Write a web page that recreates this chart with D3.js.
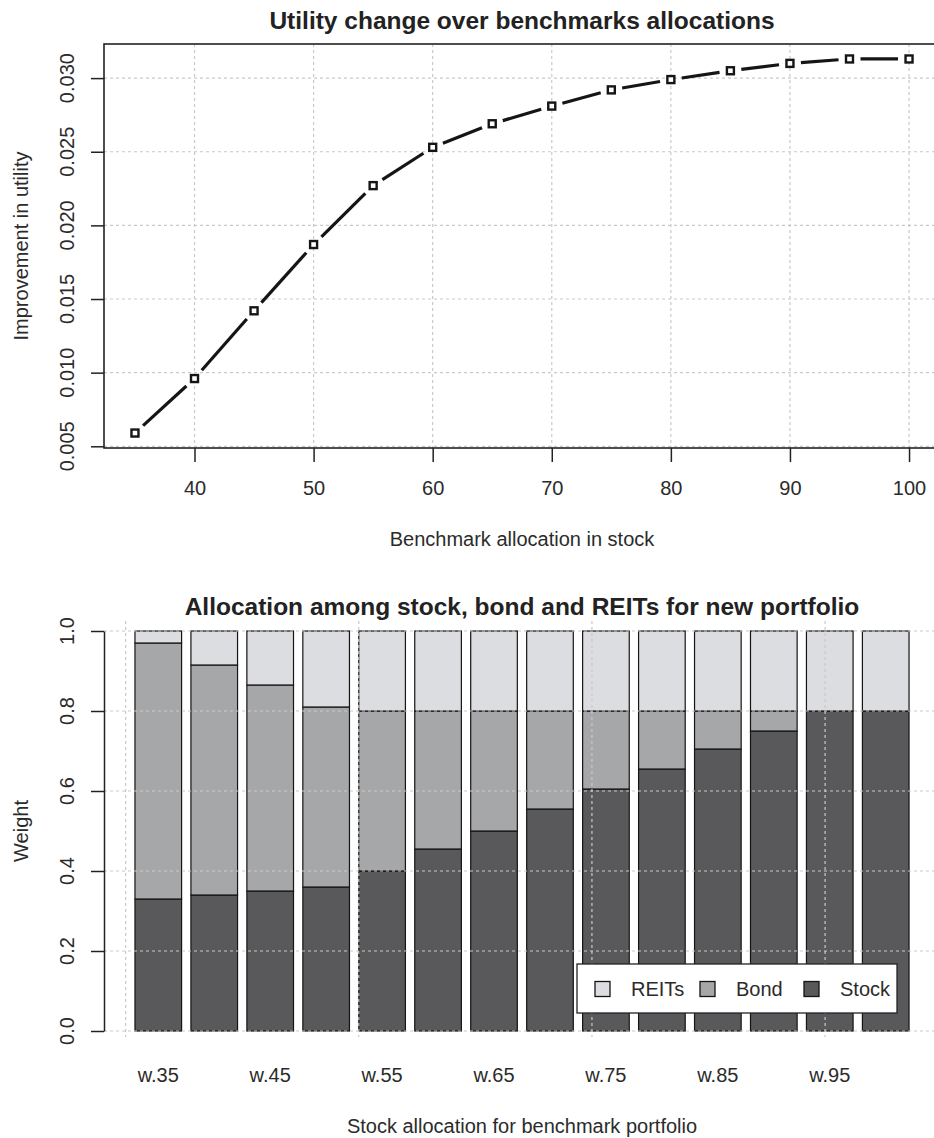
<!DOCTYPE html>
<html>
<head>
<meta charset="utf-8">
<script src="https://cdn.jsdelivr.net/npm/d3@7"></script>
<style>
  html, body { margin: 0; padding: 0; background: #ffffff; }
  svg { display: block; font-family: "Liberation Sans", Arial, sans-serif; }
</style>
</head>
<body>
<script>
// ---------------- DATA ----------------
// Top chart: utility improvement vs benchmark stock allocation
const benchmarkAlloc = [35, 40, 45, 50, 55, 60, 65, 70, 75, 80, 85, 90, 95, 100];
const utilityGain = [0.0059, 0.0096, 0.0142, 0.0187, 0.0227, 0.0253, 0.0269, 0.0281, 0.0292, 0.0299, 0.0305, 0.0310, 0.0313, 0.0313];
const topXTicks = [40, 50, 60, 70, 80, 90, 100];
const topYTicks = [0.005, 0.010, 0.015, 0.020, 0.025, 0.030];
const topYTickLabels = ["0.005", "0.010", "0.015", "0.020", "0.025", "0.030"];

// Bottom chart: allocation among stock, bond and REITs
const categories = ["w.35", "w.40", "w.45", "w.50", "w.55", "w.60", "w.65", "w.70", "w.75", "w.80", "w.85", "w.90", "w.95", "w.100"];
const stockW = [0.33, 0.34, 0.35, 0.36, 0.40, 0.455, 0.50, 0.555, 0.605, 0.655, 0.705, 0.75, 0.80, 0.80];
const bondW  = [0.64, 0.575, 0.515, 0.45, 0.40, 0.345, 0.30, 0.245, 0.195, 0.145, 0.095, 0.05, 0.00, 0.00];
const reitsW = [0.03, 0.085, 0.135, 0.19, 0.20, 0.20, 0.20, 0.20, 0.20, 0.20, 0.20, 0.20, 0.20, 0.20];
const weightTicks = [0, 0.2, 0.4, 0.6, 0.8, 1.0];
const weightTickLabels = ["0.0", "0.2", "0.4", "0.6", "0.8", "1.0"];
const seriesNames = ["Stock", "Bond", "REITs"];
const legendOrder = ["REITs", "Bond", "Stock"];

// ---------------- LAYOUT ----------------
const W = 934, H = 1138;
const FONT = 20, TITLE_FONT = 25;
const textCol = "#2b2b2b";
const gridCol = "#c9c9c9";
const colors = { Stock: "#59595b", Bond: "#a6a7a9", REITs: "#dcdde0" };

const svg = d3.select("body").append("svg").attr("width", W).attr("height", H);

const pad4 = ([a, b]) => [a - 0.04 * (b - a), b + 0.04 * (b - a)];

// ================= TOP CHART =================
const tp = { left: 104, right: 940, top: 44, bottom: 448 };
const x1 = d3.scaleLinear().domain(pad4(d3.extent(benchmarkAlloc))).range([tp.left, tp.right]);
const y1 = d3.scaleLinear().domain(pad4(d3.extent(utilityGain))).range([tp.bottom, tp.top]);

const gTop = svg.append("g");

// grid
gTop.append("g").selectAll("line").data(topXTicks).join("line")
  .attr("x1", d => x1(d)).attr("x2", d => x1(d))
  .attr("y1", tp.top).attr("y2", tp.bottom)
  .attr("stroke", gridCol).attr("stroke-width", 1.2).attr("stroke-dasharray", "3,3");
gTop.append("g").selectAll("line").data(topYTicks).join("line")
  .attr("x1", tp.left).attr("x2", tp.right)
  .attr("y1", d => y1(d)).attr("y2", d => y1(d))
  .attr("stroke", gridCol).attr("stroke-width", 1.2).attr("stroke-dasharray", "3,3");

// box
gTop.append("rect").attr("x", tp.left).attr("y", tp.top)
  .attr("width", tp.right - tp.left).attr("height", tp.bottom - tp.top)
  .attr("fill", "none").attr("stroke", "#222").attr("stroke-width", 1.6);

// x axis
const xAxisTop = gTop.append("g").attr("transform", `translate(0,${tp.bottom})`)
  .call(d3.axisBottom(x1).tickValues(topXTicks).tickSize(14).tickPadding(19).tickFormat(d3.format("d")));
xAxisTop.select(".domain").remove();
xAxisTop.selectAll("line").attr("stroke", "#222").attr("stroke-width", 1.5);
xAxisTop.selectAll("text").attr("font-size", FONT).attr("fill", textCol)
  .attr("font-family", "Liberation Sans, Arial, sans-serif");

// y axis ticks
const yAxisTop = gTop.append("g").attr("transform", `translate(${tp.left},0)`)
  .call(d3.axisLeft(y1).tickValues(topYTicks).tickSize(13).tickFormat(""));
yAxisTop.select(".domain").remove();
yAxisTop.selectAll("line").attr("stroke", "#222").attr("stroke-width", 1.5);
gTop.append("g").selectAll("text").data(topYTicks).join("text")
  .attr("transform", (d) => `translate(67,${y1(d)}) rotate(-90)`)
  .attr("text-anchor", "middle").attr("dy", "0.36em")
  .attr("font-size", FONT).attr("fill", textCol)
  .text((d, i) => topYTickLabels[i]);

// line (type "b": segments with gaps around points)
const pts = benchmarkAlloc.map((v, i) => [x1(v), y1(utilityGain[i])]);
const gap = 11;
const segs = d3.pairs(pts).map(([a, c]) => {
  const dx = c[0] - a[0], dy = c[1] - a[1], L = Math.hypot(dx, dy);
  const ux = dx / L, uy = dy / L;
  return [[a[0] + ux * gap, a[1] + uy * gap], [c[0] - ux * gap, c[1] - uy * gap]];
});
gTop.append("g").selectAll("path").data(segs).join("path")
  .attr("d", d => d3.line()(d))
  .attr("stroke", "#151515").attr("stroke-width", 3.2).attr("fill", "none");
gTop.append("g").selectAll("rect").data(pts).join("rect")
  .attr("x", d => d[0] - 3.5).attr("y", d => d[1] - 3.5)
  .attr("width", 7).attr("height", 7)
  .attr("fill", "#fff").attr("stroke", "#151515").attr("stroke-width", 2.4);

// titles
gTop.append("text").attr("x", (tp.left + tp.right) / 2).attr("y", 29)
  .attr("text-anchor", "middle").attr("font-size", TITLE_FONT - 0.5).attr("font-weight", "bold")
  .attr("fill", "#222").text("Utility change over benchmarks allocations");
gTop.append("text").attr("x", (tp.left + tp.right) / 2).attr("y", 546)
  .attr("text-anchor", "middle").attr("font-size", FONT).attr("fill", textCol)
  .text("Benchmark allocation in stock");
gTop.append("text").attr("transform", `translate(21,${(tp.top + tp.bottom) / 2}) rotate(-90)`)
  .attr("text-anchor", "middle").attr("dy", "0.36em").attr("font-size", FONT).attr("fill", textCol)
  .text("Improvement in utility");

// ================= BOTTOM CHART =================
const bt = { left: 104, right: 940, top: 631, bottom: 1031 };
const space = 0.2;
const n = categories.length;
const x2 = d3.scaleLinear().domain(pad4([space, n * (1 + space)])).range([bt.left, bt.right]);
const y2 = d3.scaleLinear().domain([0, 1]).range([bt.bottom, bt.top]);
const barLeft = i => space + i * (1 + space);

const rows = categories.map((c, i) => ({ cat: c, i, Stock: stockW[i], Bond: bondW[i], REITs: reitsW[i] }));
const stacked = d3.stack().keys(seriesNames)(rows);

const gBot = svg.append("g");

gBot.append("g").selectAll("g").data(stacked).join("g")
  .attr("fill", d => colors[d.key])
  .selectAll("rect").data(d => d.filter(s => s[1] - s[0] > 1e-9)).join("rect")
  .attr("x", d => x2(barLeft(d.data.i)))
  .attr("width", d => x2(barLeft(d.data.i) + 1) - x2(barLeft(d.data.i)))
  .attr("y", d => y2(d[1]))
  .attr("height", d => y2(d[0]) - y2(d[1]))
  .attr("stroke", "#151515").attr("stroke-width", 1.2);

// grid on top of bars
const xGrid2 = x2.ticks(4);
gBot.append("g").selectAll("line").data(xGrid2).join("line")
  .attr("x1", d => x2(d)).attr("x2", d => x2(d))
  .attr("y1", y2(1.025)).attr("y2", y2(-0.015))
  .attr("stroke", gridCol).attr("stroke-width", 1.2).attr("stroke-dasharray", "3,3");
gBot.append("g").selectAll("line").data(weightTicks).join("line")
  .attr("x1", bt.left).attr("x2", bt.right)
  .attr("y1", d => y2(d)).attr("y2", d => y2(d))
  .attr("stroke", gridCol).attr("stroke-width", 1.2).attr("stroke-dasharray", "3,3");

// y axis
const yAxisBot = gBot.append("g").attr("transform", `translate(${bt.left},0)`)
  .call(d3.axisLeft(y2).tickValues(weightTicks).tickSize(13).tickSizeOuter(0).tickFormat(""));
yAxisBot.select(".domain").attr("stroke", "#222").attr("stroke-width", 1.5);
yAxisBot.selectAll("line").attr("stroke", "#222").attr("stroke-width", 1.5);
gBot.append("g").selectAll("text").data(weightTicks).join("text")
  .attr("transform", d => `translate(67,${y2(d)}) rotate(-90)`)
  .attr("text-anchor", "middle").attr("dy", "0.36em")
  .attr("font-size", FONT).attr("fill", textCol)
  .text((d, i) => weightTickLabels[i]);

// category labels (every other one fits)
gBot.append("g").selectAll("text").data(categories.filter((c, i) => i % 2 === 0)).join("text")
  .attr("x", d => x2(barLeft(categories.indexOf(d)) + 0.5))
  .attr("y", 1082)
  .attr("text-anchor", "middle").attr("font-size", FONT).attr("fill", textCol)
  .text(d => d);

// titles
gBot.append("text").attr("x", (bt.left + bt.right) / 2).attr("y", 615)
  .attr("text-anchor", "middle").attr("font-size", TITLE_FONT - 0.5).attr("font-weight", "bold")
  .attr("fill", "#222").text("Allocation among stock, bond and REITs for new portfolio");
gBot.append("text").attr("x", (bt.left + bt.right) / 2).attr("y", 1133)
  .attr("text-anchor", "middle").attr("font-size", FONT).attr("fill", textCol)
  .text("Stock allocation for benchmark portfolio");
gBot.append("text").attr("transform", `translate(21,${(bt.top + bt.bottom) / 2}) rotate(-90)`)
  .attr("text-anchor", "middle").attr("dy", "0.36em").attr("font-size", FONT).attr("fill", textCol)
  .text("Weight");

// legend
const lg = gBot.append("g").attr("transform", "translate(577,964)");
lg.append("rect").attr("width", 320).attr("height", 49)
  .attr("fill", "#fff").attr("stroke", "#222").attr("stroke-width", 1.3);
const itemX = [18, 123, 227];
const items = lg.selectAll("g").data(legendOrder).join("g")
  .attr("transform", (d, i) => `translate(${itemX[i]},25)`);
items.append("rect").attr("x", 0).attr("y", -7.5).attr("width", 15).attr("height", 15)
  .attr("fill", d => colors[d]).attr("stroke", "#151515").attr("stroke-width", 1.3);
items.append("text").attr("x", 36).attr("dy", "0.36em")
  .attr("font-size", FONT).attr("fill", textCol).text(d => d);
</script>
</body>
</html>
